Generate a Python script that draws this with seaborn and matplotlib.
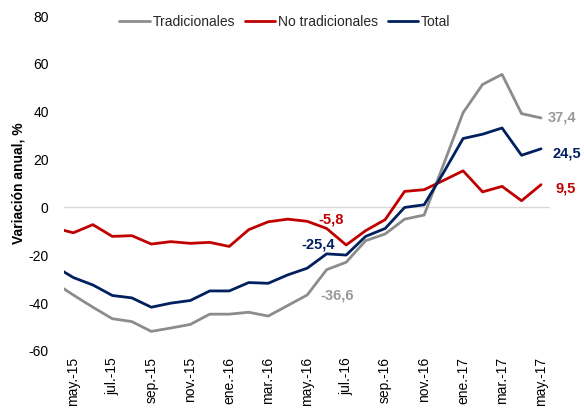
import matplotlib
matplotlib.use("Agg")
import matplotlib.pyplot as plt
import seaborn as sns
import pandas as pd

months = ['abr.-15', 'may.-15', 'jun.-15', 'jul.-15', 'ago.-15', 'sep.-15', 'oct.-15',
          'nov.-15', 'dic.-15', 'ene.-16', 'feb.-16', 'mar.-16', 'abr.-16', 'may.-16',
          'jun.-16', 'jul.-16', 'ago.-16', 'sep.-16', 'oct.-16', 'nov.-16', 'dic.-16',
          'ene.-17', 'feb.-17', 'mar.-17', 'abr.-17', 'may.-17']

tradicionales = [-31.3, -36.6, -41.7, -46.5, -47.7, -51.8, -50.4, -48.9, -44.6, -44.6,
                 -43.8, -45.4, -41.0, -36.6, -26.0, -22.9, -13.9, -11.1, -4.9, -3.2,
                 18.0, 39.6, 51.4, 55.6, 39.2, 37.4]
no_tradicionales = [-8.5, -10.6, -7.2, -12.1, -11.8, -15.3, -14.3, -15.0, -14.6, -16.3,
                    -9.3, -6.0, -4.9, -5.8, -8.8, -15.7, -9.7, -5.1, 6.7, 7.4,
                    11.3, 15.3, 6.5, 8.8, 2.8, 9.5]
total = [-24.4, -29.3, -32.4, -36.8, -37.8, -41.7, -40.0, -38.9, -34.9, -34.9,
         -31.4, -31.7, -28.2, -25.4, -19.4, -19.9, -12.1, -8.8, 0.0, 1.1,
         14.6, 28.8, 30.6, 33.2, 21.8, 24.5]

series_names = ['Tradicionales', 'No tradicionales', 'Total']
colors = ['#8C8C8C', '#C00000', '#002060']
label_colors = ['#999999', '#C00000', '#002060']

sns.set_theme(style="white")
plt.rcParams['font.family'] = ['Liberation Sans', 'DejaVu Sans']

rows = []
for name, vals in zip(series_names, [tradicionales, no_tradicionales, total]):
    for i, v in enumerate(vals):
        rows.append({'x': i, 'mes': months[i], 'serie': name, 'valor': v})
df = pd.DataFrame(rows)

fig = plt.figure(figsize=(5.84, 4.13), dpi=100)
ax = fig.add_axes([64/584, 1-351/413, (550-64)/584, (351-16)/413])

ax.axhline(0, color='#D9D9D9', lw=1.0, zorder=0)
sns.lineplot(data=df, x='x', y='valor', hue='serie', hue_order=series_names,
             palette=colors, linewidth=2.0, ax=ax, legend=False)

ax.set_xlim(0.52, 25.46)
ax.set_ylim(-60, 80)
ax.set_yticks(range(-60, 81, 20))
ax.set_yticklabels([str(v) for v in range(-60, 81, 20)], fontsize=10, color='black')
tick_pos = list(range(1, len(months), 2))
ax.set_xticks(tick_pos)
ax.set_xticklabels([months[i] for i in tick_pos], rotation=90, fontsize=10,
                   color='black', va='top', ha='center')
ax.tick_params(axis='both', length=0)
ax.tick_params(axis='y', pad=11)
ax.tick_params(axis='x', pad=4.5)
for s in ax.spines.values():
    s.set_visible(False)
ax.set_xlabel('')
ax.set_ylabel('Variación anual, %', fontsize=10, fontweight='bold', color='black', labelpad=2)

def lab(idx, vals, text, color, dx, dy, ha='left'):
    ax.annotate(text, xy=(idx, vals[idx]), xytext=(dx, dy), textcoords='offset pixels',
                ha=ha, va='center', fontsize=10.5, fontweight='bold', color=color)

last = len(months) - 1
lab(last, tradicionales, '37,4', label_colors[0], 7, 0)
lab(last, total, '24,5', label_colors[2], 11, -5)
lab(last, no_tradicionales, '9,5', label_colors[1], 14, -4)
lab(13, no_tradicionales, '-5,8', label_colors[1], 11, 2)
lab(13, total, '-25,4', label_colors[2], 11, 24, ha='center')
lab(13, tradicionales, '-36,6', label_colors[0], 13, 0)

from matplotlib.lines import Line2D
handles = [Line2D([0], [0], color=c, lw=2.0) for c in colors]
fig.legend(handles, series_names, loc='center', bbox_to_anchor=(285/584, 1-22/413),
           ncol=3, frameon=False, fontsize=10, handlelength=2.2, handletextpad=0.2,
           columnspacing=0.7)

fig.savefig('out.png', dpi=100)
